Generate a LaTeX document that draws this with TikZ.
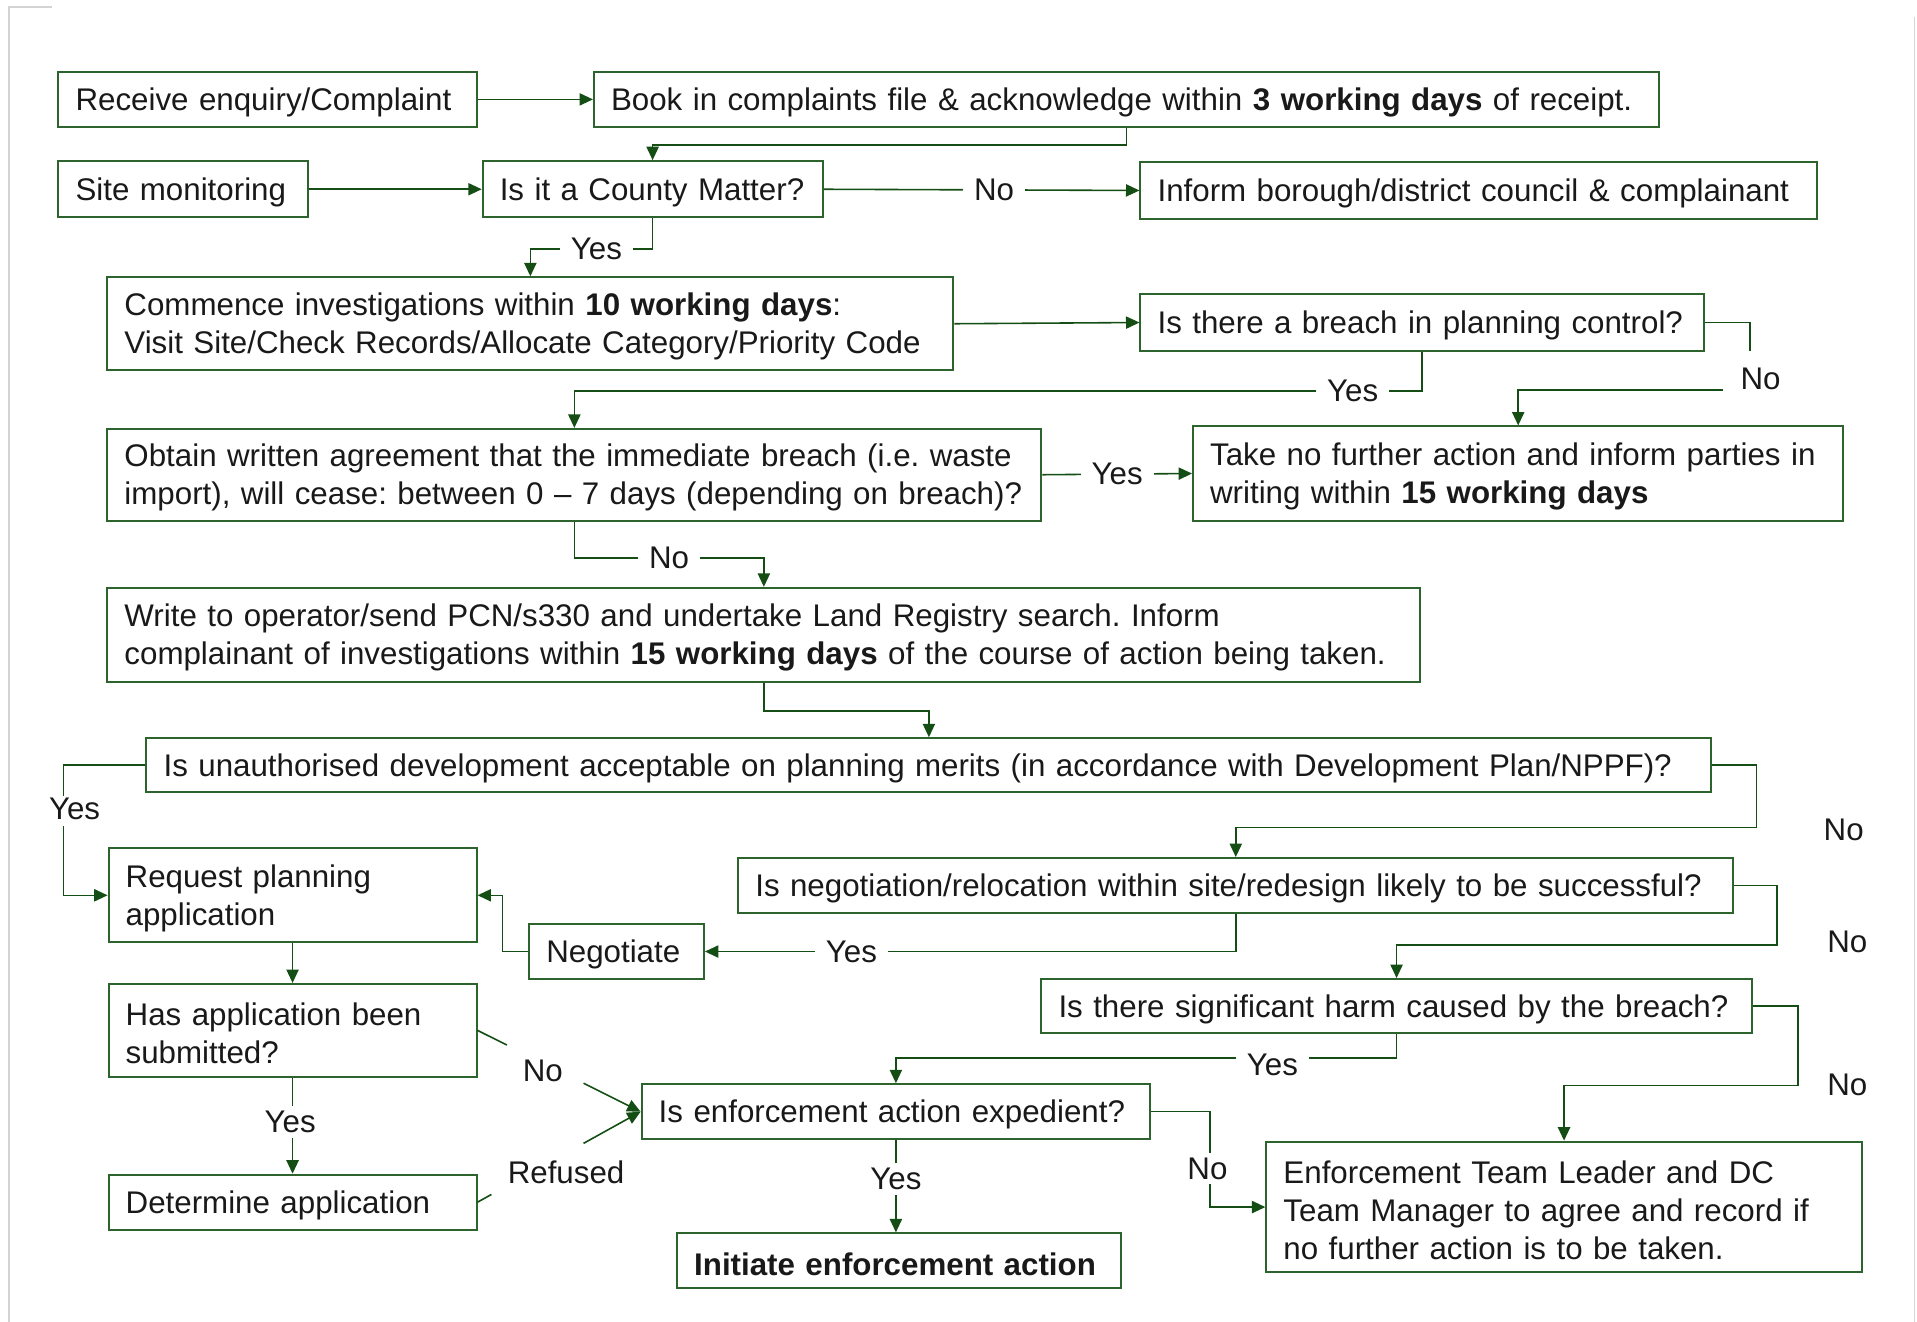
\documentclass[tikz,border=0pt]{standalone}
\usepackage{fontspec}
\setmainfont{Liberation Sans}
\usetikzlibrary{arrows.meta,calc}
\definecolor{boxcol}{RGB}{45,100,45}
\definecolor{linecol}{RGB}{20,78,20}
\definecolor{framecol}{RGB}{212,212,212}
\frenchspacing
\newcommand\flowfont{\fontsize{25.6}{31}\selectfont}
\newcommand\flowbox[6]{\node[flowbx, text width=\fpeval{#4-#2-28}pt, minimum height=\fpeval{#5-#3}pt] (#1) at (#2,#3) {\rule{0pt}{23.5pt}#6};}
\tikzset{
  flowbx/.style={draw=boxcol, line width=1.6pt, fill=white, inner xsep=14pt, inner ysep=0pt,
    align=left, anchor=north west, font=\flowfont, text=black!90},
  conn/.style={draw=linecol, line width=1.3pt, -{Triangle[length=11pt,width=10pt]}},
  lbl/.style={fill=white, inner xsep=9pt, inner ysep=4pt, font=\flowfont, text=black!90},
  lblnf/.style={inner sep=0pt, font=\flowfont, text=black!90}
}
\begin{document}
\begin{tikzpicture}[x=1pt,y=-1pt]
\useasboundingbox (0,0) rectangle (1568,1081);
% frame
\draw[framecol, line width=1.3pt] (42.5,5.7) -- (7.4,5.7) -- (7.4,1081);
\draw[framecol, line width=1.3pt] (1566,14) -- (1566,1081);
% boxes
\flowbox{recv}{47}{58}{389}{103}{\mbox{Receive enquiry/Complaint}}
\flowbox{book}{485}{58}{1356}{103}{\mbox{Book in complaints file \& acknowledge within \textbf{3 working days} of receipt.}}
\flowbox{site}{47}{131}{251}{177}{\mbox{Site monitoring}}
\flowbox{county}{394}{131}{672}{177}{\mbox{Is it a County Matter?}}
\flowbox{inform}{932}{132}{1485}{178}{\mbox{Inform borough/district council \& complainant}}
\flowbox{commence}{87}{226}{779}{302}{\mbox{Commence investigations within \textbf{10 working days}:}\\\mbox{Visit Site/Check Records/Allocate Category/Priority Code}}
\flowbox{breach}{932}{240}{1393}{286}{\mbox{Is there a breach in planning control?}}
\flowbox{obtain}{87}{350}{851}{425}{\mbox{Obtain written agreement that the immediate breach (i.e. waste}\\\mbox{import), will cease: between 0 – 7 days (depending on breach)?}}
\flowbox{takeno}{975}{348}{1507}{425}{\mbox{Take no further action and inform parties in}\\\mbox{writing within \textbf{15 working days}}}
\flowbox{write}{87}{480}{1161}{557}{\mbox{Write to operator/send PCN/s330 and undertake Land Registry search. Inform}\\\mbox{complainant of investigations within \textbf{15 working days} of the course of action being taken.}}
\flowbox{unauth}{119}{603}{1399}{647}{\mbox{Is unauthorised development acceptable on planning merits (in accordance with Development Plan/NPPF)?}}
\flowbox{reqplan}{88}{693}{389}{770}{\mbox{Request planning}\\\mbox{application}}
\flowbox{negot}{603}{701}{1417}{746}{\mbox{Is negotiation/relocation within site/redesign likely to be successful?}}
\flowbox{negotiate}{432}{755}{575}{800}{\mbox{Negotiate}}
\flowbox{hasapp}{88}{804}{389}{880}{\mbox{Has application been}\\\mbox{submitted?}}
\flowbox{harm}{851}{800}{1432}{844}{\mbox{Is there significant harm caused by the breach?}}
\flowbox{expedient}{524}{886}{940}{931}{\mbox{Is enforcement action expedient?}}
\flowbox{determine}{88}{960}{389}{1005}{\mbox{Determine application}}
\flowbox{initiate}{553}{1008}{916}{1053}{\mbox{\textbf{Initiate enforcement action}}}
\flowbox{teamleader}{1035}{933}{1522}{1040}{\mbox{Enforcement Team Leader and DC}\\\mbox{Team Manager to agree and record if}\\\mbox{no further action is to be taken.}}
% connectors
\draw[conn] (recv.east) -- (book.west);
\draw[conn] (book.south) -- ++(0,14) -| (county.north);
\draw[conn] (site.east) -- (county.west);
\draw[conn] (county.east) -- node[lbl,pos=0.54]{No} (inform.west);
\draw[conn] (county.south) -- ++(0,25) -| node[lbl,pos=0.23]{Yes} (commence.north);
\draw[conn] (commence.east) -- (breach.west);
\draw[conn] (breach.south) -- ++(0,32) -| node[lbl,pos=0.041]{Yes} (obtain.north);
\draw[conn] (breach.east) -- ++(37,0) -- ++(0,23) ++(-22,32) -| (takeno.north)
  node[lblnf] at (1440,310) {No};
\draw[conn] (obtain.east) -- node[lbl]{Yes} (takeno.west);
\draw[conn] (obtain.south) -- ++(0,30) -| node[lbl,pos=0.25]{No} (write.north);
\draw[conn] (write.south) -- ++(0,23) -| (unauth.north);
\draw[conn] (unauth.west) -- ++(-67,0) -- ++(0,25) ++(0,25) |- (reqplan.west)
  node[lblnf] at (61,662) {Yes};
\draw[conn] (unauth.east) -- ++(36,0) -- ++(0,51) -| (negot.north)
  node[lblnf] at (1508,679) {No};
\draw[conn] (negot.east) -- ++(35,0) -- ++(0,48.5) -| (harm.north)
  node[lblnf] at (1511,770) {No};
\draw[conn] (negot.south) |- node[lbl,pos=0.862]{Yes} (negotiate.east);
\draw[conn] (negotiate.west) -- ++(-21,0) |- (reqplan.east);
\draw[conn] (reqplan.south) -- (hasapp.north);
\draw[conn] (hasapp.south) -- node[lbl,pos=0.46,xshift=-2pt]{Yes} (determine.north);
\draw[conn] (hasapp.east) -- ($(hasapp.east)!0.18!(expedient.west)$)
  ($(hasapp.east)!0.65!(expedient.west)$) -- (expedient.west)
  node[lblnf] at (444,876) {No};
\draw[conn] (determine.east) -- ($(determine.east)!0.085!(expedient.west)$)
  ($(determine.east)!0.65!(expedient.west)$) -- (expedient.west)
  node[lblnf] at (463,959) {Refused};
\draw[conn] (harm.south) -- ++(0,20) -| node[lbl,pos=0.124,yshift=-5pt]{Yes} (expedient.north);
\draw[conn] (harm.east) -- ++(37,0) -- ++(0,65) -| (teamleader.north)
  node[lblnf] at (1511,887) {No};
\draw[conn] (expedient.south) -- node[lbl,pos=0.42]{Yes} (expedient.south |- initiate.north);
\draw[conn] (expedient.east) -- ++(48,0) |- node[lbl,pos=0.298,xshift=-2pt]{No} (teamleader.west);
\end{tikzpicture}
\end{document}
